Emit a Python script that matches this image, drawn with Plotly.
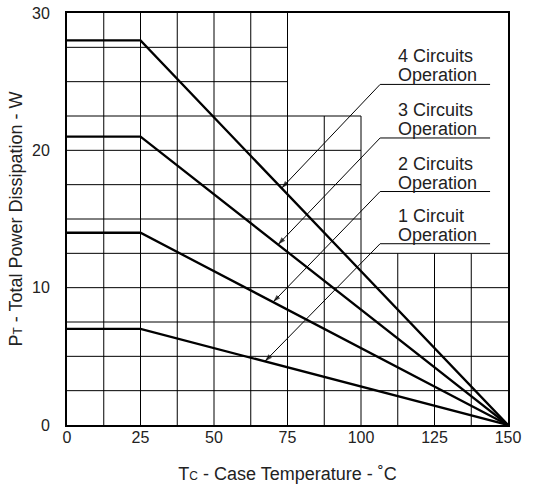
import numpy as np
import plotly.graph_objects as go

# ---- data ----
temps = [0, 25, 150]
series_names = ["4 Circuits", "3 Circuits", "2 Circuits", "1 Circuit"]
p4 = [28, 28, 0]
p3 = [21, 21, 0]
p2 = [14, 14, 0]
p1 = [7, 7, 0]
series = [p4, p3, p2, p1]

x_ticks = [0, 25, 50, 75, 100, 125, 150]
y_ticks = [0, 10, 20, 30]

# grid: vertical lines and their top extent, horizontal lines and their right extent
v_grid_x = [12.5, 25, 37.5, 50, 62.5, 75, 87.5, 100, 112.5, 125, 137.5]
v_grid_top = [30, 30, 30, 30, 30, 30, 22.5, 22.5, 12.5, 12.5, 12.5]
h_grid_y = [2.5, 5, 7.5, 10, 12.5, 15, 17.5, 20, 22.5, 25, 27.5]
h_grid_right = [150, 150, 150, 150, 150, 100, 100, 100, 100, 75, 75]

# label leaders
label_line1 = ["4 Circuits", "3 Circuits", "2 Circuits", "1 Circuit"]
label_line2 = ["Operation", "Operation", "Operation", "Operation"]
label_under_y = [24.8, 20.9, 17.0, 13.2]
tip_x = [73.0, 71.8, 70.1, 67.3]
under_x0, under_x1 = 106.5, 143.9
text_x = 112.0

FONT = "Liberation Sans"
TXT = "#222"
fig = go.Figure()

for s in series:
    fig.add_trace(go.Scatter(x=temps, y=s, mode="lines",
                             line=dict(color="black", width=2.3),
                             showlegend=False, hoverinfo="skip"))

shapes = []
for x, top in zip(v_grid_x, v_grid_top):
    shapes.append(dict(type="line", xref="x", yref="y", x0=x, x1=x, y0=0, y1=top,
                       line=dict(color="black", width=1), layer="below"))
for y, right in zip(h_grid_y, h_grid_right):
    shapes.append(dict(type="line", xref="x", yref="y", x0=0, x1=right, y0=y, y1=y,
                       line=dict(color="black", width=1), layer="below"))

annotations = []
for s, t1, t2, uy, tx in zip(series, label_line1, label_line2, label_under_y, tip_x):
    ty = float(np.interp(tx, temps, s))
    # underline + leader with arrowhead at the tip
    fig.add_trace(go.Scatter(
        x=[under_x1, under_x0, tx], y=[uy, uy, ty], mode="lines+markers",
        line=dict(color="black", width=1),
        marker=dict(symbol="arrow", size=[0, 0, 8], angleref="previous",
                    color="black", line=dict(width=0)),
        showlegend=False, hoverinfo="skip", cliponaxis=False))
    for txt, shift in ((t1, 28), (t2, 9)):
        annotations.append(dict(x=text_x, y=uy, xref="x", yref="y", text=txt,
                                showarrow=False, xanchor="left", yanchor="middle",
                                yshift=shift, font=dict(family=FONT, size=18, color=TXT)))

SMALL = "<span style='font-size:12px'>{}</span>"
fig.update_layout(
    width=535, height=485,
    margin=dict(l=67, r=27, t=13, b=60),
    paper_bgcolor="white", plot_bgcolor="white",
    shapes=shapes, annotations=annotations,
    font=dict(family=FONT, size=16, color=TXT),
    xaxis=dict(range=[0, 150], tickvals=x_ticks, showgrid=False, zeroline=False,
               showline=True, mirror=True, linecolor="black", linewidth=2, ticks="",
               automargin=False, ticklabelstandoff=-3, ticklabeloverflow="allow",
               title=dict(text="T" + SMALL.format("C") + " - Case Temperature - ˚C", standoff=22,
                          font=dict(family=FONT, size=18, color=TXT))),
    yaxis=dict(range=[0, 30], tickvals=y_ticks, showgrid=False, zeroline=False,
               showline=True, mirror=True, linecolor="black", linewidth=2, ticks="",
               ticklabelstandoff=12, automargin=False, ticklabeloverflow="allow",
               title=dict(text="P" + SMALL.format("T") + " - Total Power Dissipation - W", standoff=5,
                          font=dict(family=FONT, size=18, color=TXT))),
)

fig.write_html("out.html", config={"displayModeBar": False},
               post_script="document.body.style.margin='0px';")
